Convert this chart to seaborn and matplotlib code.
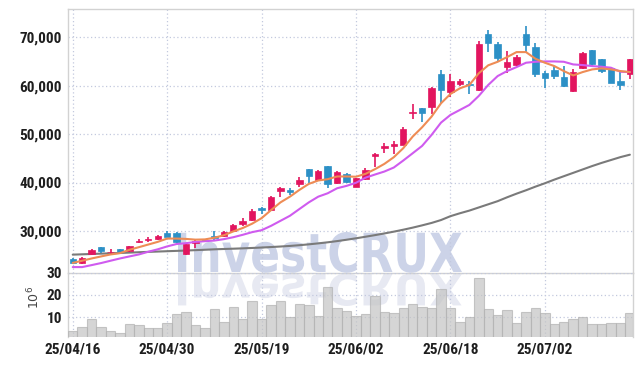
import numpy as np
import pandas as pd
import matplotlib
matplotlib.use("Agg")
import matplotlib.pyplot as plt
import seaborn as sns
from matplotlib.textpath import TextPath
from matplotlib.patches import PathPatch
from matplotlib.font_manager import FontProperties, fontManager
from matplotlib.transforms import Affine2D

# ---------------- data ----------------
tick_idx = [0, 10, 20, 30, 40, 50]
tick_labels = ["25/04/16", "25/04/30", "25/05/19", "25/06/02", "25/06/18", "25/07/02"]

open_ = [24250, 23290, 25140, 26640, 25550, 26230, 25820, 27750, 28150, 28420,
         29520, 29590, 25150, 27470, 28150, 28970, 28950, 30000, 31530, 32230,
         34790, 34310, 38330, 38470, 39650, 42700, 40560, 43330, 39930, 41670,
         39170, 40760, 45570, 47090, 47500, 47840, 54310, 55410, 55550, 62430,
         58780, 60430, 60290, 59060, 70690, 68530, 63850, 64200, 70600, 67910,
         62550, 63160, 61720, 58900, 63650, 67290, 65440, 63580, 60960, 62480]
close = [23290, 24450, 26100, 25820, 25750, 25690, 26850, 28000, 28420, 28970,
         28840, 27670, 27300, 27880, 27950, 28560, 29775, 31250, 31950, 34170,
         34240, 37080, 38950, 38050, 40620, 41320, 42290, 39720, 42080, 40140,
         40890, 42550, 45920, 47570, 47980, 51010, 54650, 54450, 59540, 59200,
         60980, 60980, 60090, 68620, 68760, 65710, 64820, 65850, 68390, 62480,
         61580, 62000, 59930, 62890, 66670, 64400, 63030, 60620, 60140, 65440]
high = [24380, 24580, 26300, 26700, 26230, 26300, 26950, 28290, 28700, 29100,
        29930, 29800, 27470, 28150, 28290, 30070, 29900, 31400, 32640, 34520,
        35000, 37300, 39170, 38890, 41110, 42800, 42500, 43470, 42360, 41950,
        41030, 42960, 46190, 48120, 48530, 51490, 56170, 55500, 59820, 63190,
        62360, 61460, 60980, 69240, 71510, 69000, 67160, 66400, 72320, 68740,
        63030, 64060, 64060, 63370, 66880, 67290, 65440, 63580, 63030, 65580]
low = [23150, 23220, 25000, 25480, 25300, 25480, 25700, 27470, 27740, 28150,
       28700, 27470, 25000, 26440, 27610, 28150, 28800, 29850, 31120, 32100,
       33480, 34170, 36950, 37500, 39170, 40000, 40420, 38890, 39720, 39860,
       39100, 40550, 43230, 46050, 45920, 47700, 53070, 52450, 54100, 56510,
       57610, 59880, 58300, 58920, 66900, 64880, 62680, 64060, 67020, 61860,
       59590, 61450, 59660, 58690, 63370, 64060, 62550, 60620, 59110, 61310]

ma_short = [23400, 23840, 24310, 24730, 25140, 25410, 26100, 26640, 27190, 27740,
            28420, 28420, 28350, 28200, 28250, 28600, 29100, 29900, 30600, 31500,
            32640, 34300, 35900, 37080, 38470, 39720, 40420, 40690, 41250, 41250,
            41200, 41790, 42750, 43850, 45230, 47090, 49490, 51420, 53620, 56370,
            58300, 59470, 60160, 62570, 64220, 64950, 65920, 66950, 66950, 65570,
            64750, 64060, 63030, 62130, 62820, 63370, 63580, 63370, 63030, 62820]
ma_mid = [22530, 22530, 22940, 23360, 23840, 24310, 24730, 25140, 25700, 26200,
          26800, 27300, 27470, 27740, 27880, 28010, 28300, 28700, 29200, 29750,
          30150, 31050, 32090, 33130, 34520, 35900, 37080, 37780, 38820, 39310,
          39950, 41000, 41650, 42270, 43100, 44540, 46050, 47570, 49840, 52380,
          53970, 55000, 56030, 57890, 60160, 62000, 63030, 63850, 64750, 64950,
          65020, 65020, 64950, 64400, 64270, 64060, 63920, 63720, 62890, 62820]
ma_long = [25100, 25170, 25240, 25310, 25380, 25450, 25520, 25600, 25670, 25740,
           25810, 25880, 25950, 26030, 26110, 26200, 26270, 26330, 26400, 26480,
           26570, 26670, 26780, 26900, 27050, 27230, 27430, 27650, 27900, 28180,
           28480, 28800, 29130, 29480, 29850, 30250, 30680, 31150, 31650, 32250,
           33050, 33650, 34200, 34850, 35500, 36150, 36950, 37700, 38400, 39150,
           39850, 40600, 41300, 42000, 42700, 43400, 44050, 44650, 45250, 45750]

volume = [3.7, 5.7, 9.2, 5.6, 4.0, 3.1, 7.1, 6.5, 5.2, 5.2,
          7.5, 11.6, 12.4, 6.5, 5.2, 13.6, 7.8, 14.5, 9.3, 17.4,
          9.3, 15.6, 17.2, 10.1, 16.0, 15.6, 10.5, 23.5, 14.1, 12.9,
          10.4, 11.6, 19.6, 12.4, 11.9, 14.2, 16.0, 14.5, 14.1, 22.6,
          14.1, 8.0, 10.1, 27.5, 13.8, 11.1, 13.3, 7.5, 12.4, 14.1,
          12.0, 7.1, 8.0, 9.2, 10.1, 7.1, 7.1, 7.5, 7.5, 11.9]

price_ticks = [30000, 40000, 50000, 60000, 70000]
vol_ticks = [10, 20, 30]

# ---------------- style ----------------
sns.set_theme(style="white")
plt.rcParams["font.family"] = ["Roboto", "DejaVu Sans"]


def is_bold(w):
    try:
        return int(w) >= 600
    except (TypeError, ValueError):
        return str(w).lower() in ("bold", "heavy", "black", "demibold", "semibold", "extra bold")


def find_condensed_bold():
    best = None
    for f in fontManager.ttflist:
        name = f.name
        st = str(f.stretch).lower()
        narrow = ("narrow" in name.lower() or "condensed" in name.lower()
                  or "condensed" in st)
        if narrow and is_bold(f.weight):
            score = 0
            if "liberation sans narrow" in name.lower():
                score = 3
            elif "roboto" in name.lower():
                score = 2
            elif "dejavu sans" in name.lower() and "mono" not in name.lower():
                score = 1
            if best is None or score > best[0]:
                best = (score, f.fname)
    return best[1] if best else None


cond = find_condensed_bold()
if cond:
    label_fp = FontProperties(fname=cond, size=11)
else:
    label_fp = FontProperties(family="Roboto", weight="bold", size=10)

UP = "#E2155F"
DOWN = "#2C90C6"
GRID = "#c3c9de"
SPINE = "#d2d2d2"

W, H = 642, 366
fig = plt.figure(figsize=(W / 100, H / 100), dpi=100)
fig.patch.set_facecolor("white")


def fx(px):
    return px / W


def fy(py):
    return 1 - py / H


L, R = 68.3, 632.7
T, MID, B = 9.3, 272.7, 337.3
ax = fig.add_axes([fx(L), fy(MID), fx(R) - fx(L), fy(T) - fy(MID)])
axv = fig.add_axes([fx(L), fy(B), fx(R) - fx(L), fy(MID) - fy(B)])
for a in (ax, axv):
    a.set_facecolor("none")

df = pd.DataFrame({"i": np.arange(len(close)), "o": open_, "c": close,
                   "h": high, "l": low, "ma5": ma_short, "ma20": ma_mid,
                   "ma120": ma_long, "vol": volume})
colors = np.where(df["c"] >= df["o"], UP, DOWN)

# watermark (behind axes)
fp = FontProperties(family="DejaVu Sans", weight="bold")
tp = TextPath((0, 0), "InvestCRUX", size=100, prop=fp)
bb = tp.get_extents()
x0, x1, ytop, ybase = 178, 462, 232, 272
sx = (x1 - x0) / bb.width
sy = (ybase - ytop) / bb.y1
tr = Affine2D().translate(-bb.x0, 0).scale(sx, sy).translate(x0, H - ybase)
fig.add_artist(PathPatch(tp, transform=tr, facecolor="#ccd3e8",
                         edgecolor="none", zorder=-1))
tr2 = Affine2D().translate(-bb.x0, 0).scale(sx, -sy * 0.8).translate(x0, H - ybase - 2)
fig.add_artist(PathPatch(tp, transform=tr2, facecolor="#e7e9f2",
                         edgecolor="none", zorder=-1))

# candles
ax.vlines(df["i"], df["l"], df["h"], colors=colors, lw=1.2, zorder=3)
body_bottom = np.minimum(df["o"], df["c"])
body_h = np.maximum(np.abs(df["c"] - df["o"]), 180)
ax.bar(df["i"], body_h, bottom=body_bottom, width=0.68, color=colors,
       edgecolor=colors, linewidth=0.5, zorder=4)

# moving averages
sns.lineplot(data=df, x="i", y="ma120", ax=ax, color="#7a7a7a", lw=1.5, zorder=2)
sns.lineplot(data=df, x="i", y="ma20", ax=ax, color="#CF5BEF", lw=1.5, zorder=5)
sns.lineplot(data=df, x="i", y="ma5", ax=ax, color="#EE8C55", lw=1.5, zorder=5)

# volume
sns.barplot(data=df, x="i", y="vol", ax=axv, native_scale=True, width=1.0,
            color="#c4c4c4", saturation=1, errorbar=None, alpha=0.7,
            edgecolor="#b2b2b2", linewidth=0.8, zorder=3)

xl = (-0.47, 59.3)
ax.set_xlim(*xl)
axv.set_xlim(*xl)
ax.set_ylim(21370, 75790)
axv.set_ylim(1.0, 30)

dotted = dict(color=GRID, linestyle=(0, (1, 2)), linewidth=0.9)
ax.set_yticks(price_ticks)
ax.set_yticklabels([f"{v:,}" for v in price_ticks])
ax.set_xticks(tick_idx)
ax.set_xticklabels([])
ax.grid(True, **dotted)
ax.set_axisbelow(True)
axv.set_yticks(vol_ticks)
axv.set_yticklabels([str(v) for v in vol_ticks])
axv.set_xticks(tick_idx)
axv.set_xticklabels(tick_labels)
axv.grid(True, **dotted)
axv.set_axisbelow(True)

for a in (ax, axv):
    a.set_xlabel("")
    a.set_ylabel("")
    a.tick_params(axis="both", length=0, labelcolor="#1e1e1e")
    for lab in a.get_yticklabels() + a.get_xticklabels():
        lab.set_fontproperties(label_fp)
    for s in a.spines.values():
        s.set_color(SPINE)
        s.set_linewidth(1.0)
ax.tick_params(axis="y", pad=4.5)
axv.tick_params(axis="y", pad=4.5)
axv.tick_params(axis="x", pad=4.0)
axv.spines["top"].set_visible(False)
axv.spines["bottom"].set_visible(False)

fig.text(fx(34), fy(297), r"$10^6$", rotation=90, ha="center", va="center",
         fontsize=9, color="#444444", family="DejaVu Sans")

fig.savefig("out.png", dpi=100, facecolor="white")
